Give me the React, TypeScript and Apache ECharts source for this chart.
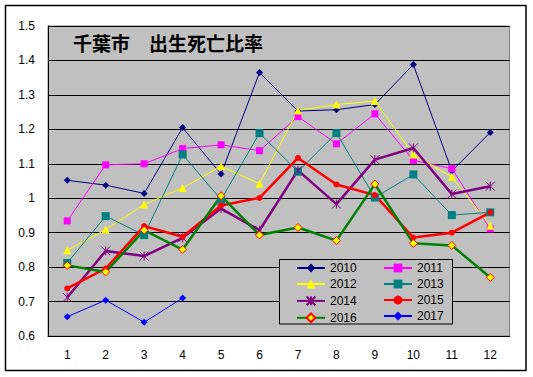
import React, { useEffect, useRef } from "react";
import * as echarts from "echarts";

const categories = ["1", "2", "3", "4", "5", "6", "7", "8", "9", "10", "11", "12"];
const years = ["2010", "2011", "2012", "2013", "2014", "2015", "2016", "2017"];
const v2010 = [1.052, 1.038, 1.014, 1.205, 1.07, 1.365, 1.253, 1.257, 1.272, 1.388, 1.079, 1.191];
const v2011 = [0.934, 1.097, 1.1, 1.144, 1.155, 1.138, 1.237, 1.158, 1.245, 1.11, 1.086, 0.911];
const v2012 = [0.849, 0.909, 0.982, 1.03, 1.093, 1.042, 1.255, 1.272, 1.282, 1.127, 1.062, 0.92];
const v2013 = [0.812, 0.948, 0.893, 1.127, 0.996, 1.189, 1.077, 1.189, 1.002, 1.069, 0.951, 0.959];
const v2014 = [0.712, 0.847, 0.832, 0.885, 0.97, 0.907, 1.081, 0.983, 1.112, 1.146, 1.012, 1.035];
const v2015 = [0.738, 0.796, 0.919, 0.888, 0.979, 1.001, 1.117, 1.04, 1.009, 0.886, 0.9, 0.959];
const v2016 = [0.805, 0.786, 0.907, 0.851, 1.007, 0.893, 0.915, 0.877, 1.041, 0.869, 0.863, 0.77];
const v2017 = [0.656, 0.704, 0.64, 0.71];
const titleText = "千葉市　出生死亡比率";

const FONT = "'Liberation Sans', Arial, sans-serif";
const ASTER = "path://M0,0L10,10M10,0L0,10M5,0L5,10";

export default function App() {
  const ref = useRef<HTMLDivElement>(null);
  useEffect(() => {
    if (!ref.current) return;
    const chart = echarts.init(ref.current, null, { renderer: "svg" });
    const mk = (name: string, data: number[], color: string, width: number, symbol: string, size: number, itemStyle?: any) => ({
      name,
      type: "line",
      data,
      symbol,
      symbolSize: size,
      showSymbol: true,
      lineStyle: { color, width },
      itemStyle: itemStyle || { color },
      emphasis: { disabled: true },
    });
    const series = [
      mk("2010", v2010, "#000080", 1, "diamond", 7),
      mk("2011", v2011, "#FF00FF", 1, "rect", 7),
      mk("2012", v2012, "#FFFF00", 1, "triangle", 8),
      mk("2013", v2013, "#008080", 1, "rect", 8),
      mk("2014", v2014, "#800080", 2.5, ASTER, 9, { color: "none", borderColor: "#800080", borderWidth: 1 }),
      mk("2015", v2015, "#FF0000", 2.5, "circle", 6),
      mk("2016", v2016, "#008000", 2.5, "diamond", 8, { color: "#FFFF00", borderColor: "#FF0000", borderWidth: 1 }),
      mk("2017", v2017, "#0000FF", 1, "diamond", 7),
    ];
    const legendCommon = {
      orient: "vertical",
      top: 262,
      itemWidth: 28,
      itemHeight: 11,
      itemGap: 4,
      padding: 0,
      selectedMode: false,
      textStyle: { fontSize: 12, color: "#000", fontFamily: FONT },
    };
    chart.setOption({
      animation: false,
      backgroundColor: "#fff",
      grid: {
        left: 48,
        right: 23.5,
        top: 26,
        bottom: 41,
        show: true,
        backgroundColor: "#C0C0C0",
        borderColor: "#808080",
        borderWidth: 1,
      },
      legend: [
        { ...legendCommon, left: 296, data: ["2010", "2012", "2014", "2016"] },
        { ...legendCommon, left: 383, data: ["2011", "2013", "2015", "2017"] },
      ],
      xAxis: {
        type: "category",
        data: categories,
        boundaryGap: true,
        axisLine: { lineStyle: { color: "#000", width: 1 } },
        axisTick: { inside: true, length: 4, lineStyle: { color: "#000" } },
        axisLabel: { color: "#000", fontSize: 12, fontFamily: FONT, margin: 13 },
        splitLine: { show: false },
      },
      yAxis: {
        type: "value",
        min: 0.6,
        max: 1.5,
        interval: 0.1,
        axisLine: { show: true, lineStyle: { color: "#000", width: 1 } },
        axisTick: { show: false },
        axisLabel: {
          color: "#000",
          fontSize: 12,
          fontFamily: FONT,
          margin: 13,
          formatter: (v: number) => String(parseFloat(v.toFixed(1))),
        },
        splitLine: { show: true, lineStyle: { color: "#000", width: 1 } },
      },
      graphic: [
        {
          type: "rect",
          z: 1,
          shape: { x: 5.5, y: 5.5, width: 520.5, height: 365 },
          style: { fill: "none", stroke: "#000", lineWidth: 1.5 },
          silent: true,
        },
        {
          type: "rect",
          z: 1,
          shape: { x: 279.5, y: 259.5, width: 173, height: 64.5 },
          style: { fill: "#C0C0C0", stroke: "#000", lineWidth: 1 },
          silent: true,
        },
        {
          type: "text",
          z: 10,
          x: 73,
          y: 42.5,
          style: {
            text: titleText,
            font: "bold 19px 'Noto Sans CJK JP', sans-serif",
            fill: "#000",
            verticalAlign: "middle",
            align: "left",
          },
          silent: true,
        },
      ],
      series,
    });
    return () => chart.dispose();
  }, []);
  return <div ref={ref} style={{ width: 533, height: 377, position: "absolute", left: 0, top: 0 }} />;
}
